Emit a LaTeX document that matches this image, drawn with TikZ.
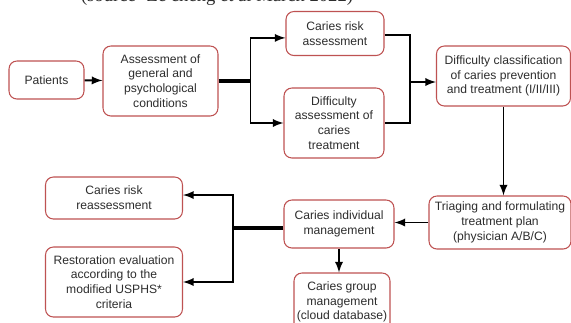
\documentclass[tikz,border=0pt]{standalone}
\usepackage{fontspec}
\setsansfont{Liberation Sans}
\newfontfamily\capfont{Liberation Serif}
\definecolor{boxred}{RGB}{190,82,82}
\definecolor{txtgray}{RGB}{45,45,45}

\begin{document}
\begin{tikzpicture}[x=0.02cm,y=-0.02cm,>=latex,
  box/.style={draw=boxred, line width=0.6pt, rounded corners=4.5pt, fill=white,
    align=center, inner sep=0pt, text=txtgray,
    font=\sffamily\fontsize{6.9}{8.4}\selectfont},
  arr/.style={->, line width=1.1pt},
  link/.style={line width=1.1pt},
  stub/.style={line width=1.8pt}]

\useasboundingbox (0,0) rectangle (571,322);
\clip (0,0) rectangle (571,322);

% clipped caption at the top
\node[anchor=base, font=\capfont\fontsize{10.6}{12}\selectfont, text=txtgray] (cap) at (217,1.5) {(source- Ze cheng et al March 2022)};

% Top row
\node[box, minimum width=1.5cm, minimum height=0.76cm] (patients) at (46.5,80) {Patients};
\node[box, minimum width=2.3cm, minimum height=1.4cm] (assess) at (160.5,81) {Assessment of\\general and\\psychological\\conditions};
\node[box, minimum width=1.96cm, minimum height=0.88cm] (risk) at (335,33.5) {Caries risk\\assessment};
\node[box, minimum width=2cm, minimum height=1.4cm] (diffass) at (334,123) {Difficulty\\assessment of\\caries\\treatment};
\node[box, minimum width=2.68cm, minimum height=1.2cm] (classif) at (503.5,76) {Difficulty classification\\of caries prevention\\and treatment (I/II/III)};

% Bottom row
\node[box, minimum width=2.84cm, minimum height=1.06cm] (triage) at (500,222.5) {Triaging and formulating\\treatment plan\\(physician A/B/C)};
\node[box, minimum width=2.2cm, minimum height=0.96cm] (indiv) at (339,224) {Caries individual\\management};
\node[box, minimum width=1.92cm, minimum height=1.16cm] (group) at (342,302) {Caries group\\management\\(cloud database)};
\node[box, minimum width=2.74cm, minimum height=0.84cm] (reass) at (114,198) {Caries risk\\reassessment};
\node[box, minimum width=2.74cm, minimum height=1.4cm] (restor) at (114,282) {Restoration evaluation\\according to the\\modified USPHS*\\criteria};

% Junctions
\coordinate (j1) at (250.5,81);
\coordinate (j2) at (410,82);
\coordinate (j3) at (233,228);

% Connectors
\draw[arr] (patients) -- (assess);
\draw[stub] (assess.east |- j1) -- (j1);
\draw[arr] (j1) |- ([yshift=-2.5pt]risk.west);
\draw[arr] (j1) |- (diffass.west);
\draw[link] ([yshift=-1pt]risk.east) -| (j2) |- (diffass.east);
\draw[arr] (j2) -- (classif.west |- j2);
\draw[arr] (classif.south) -- (classif.south |- triage.north);
\draw[arr] (triage.west) -- (triage.west -| indiv.east);
\draw[arr] (indiv.south) -- (indiv.south |- group.north);
\draw[stub] (indiv.west |- j3) -- (j3);
\draw[arr] (j3) |- ([yshift=1.7pt]reass.east);
\draw[arr] (j3) |- (restor.east);

\end{tikzpicture}
\end{document}
